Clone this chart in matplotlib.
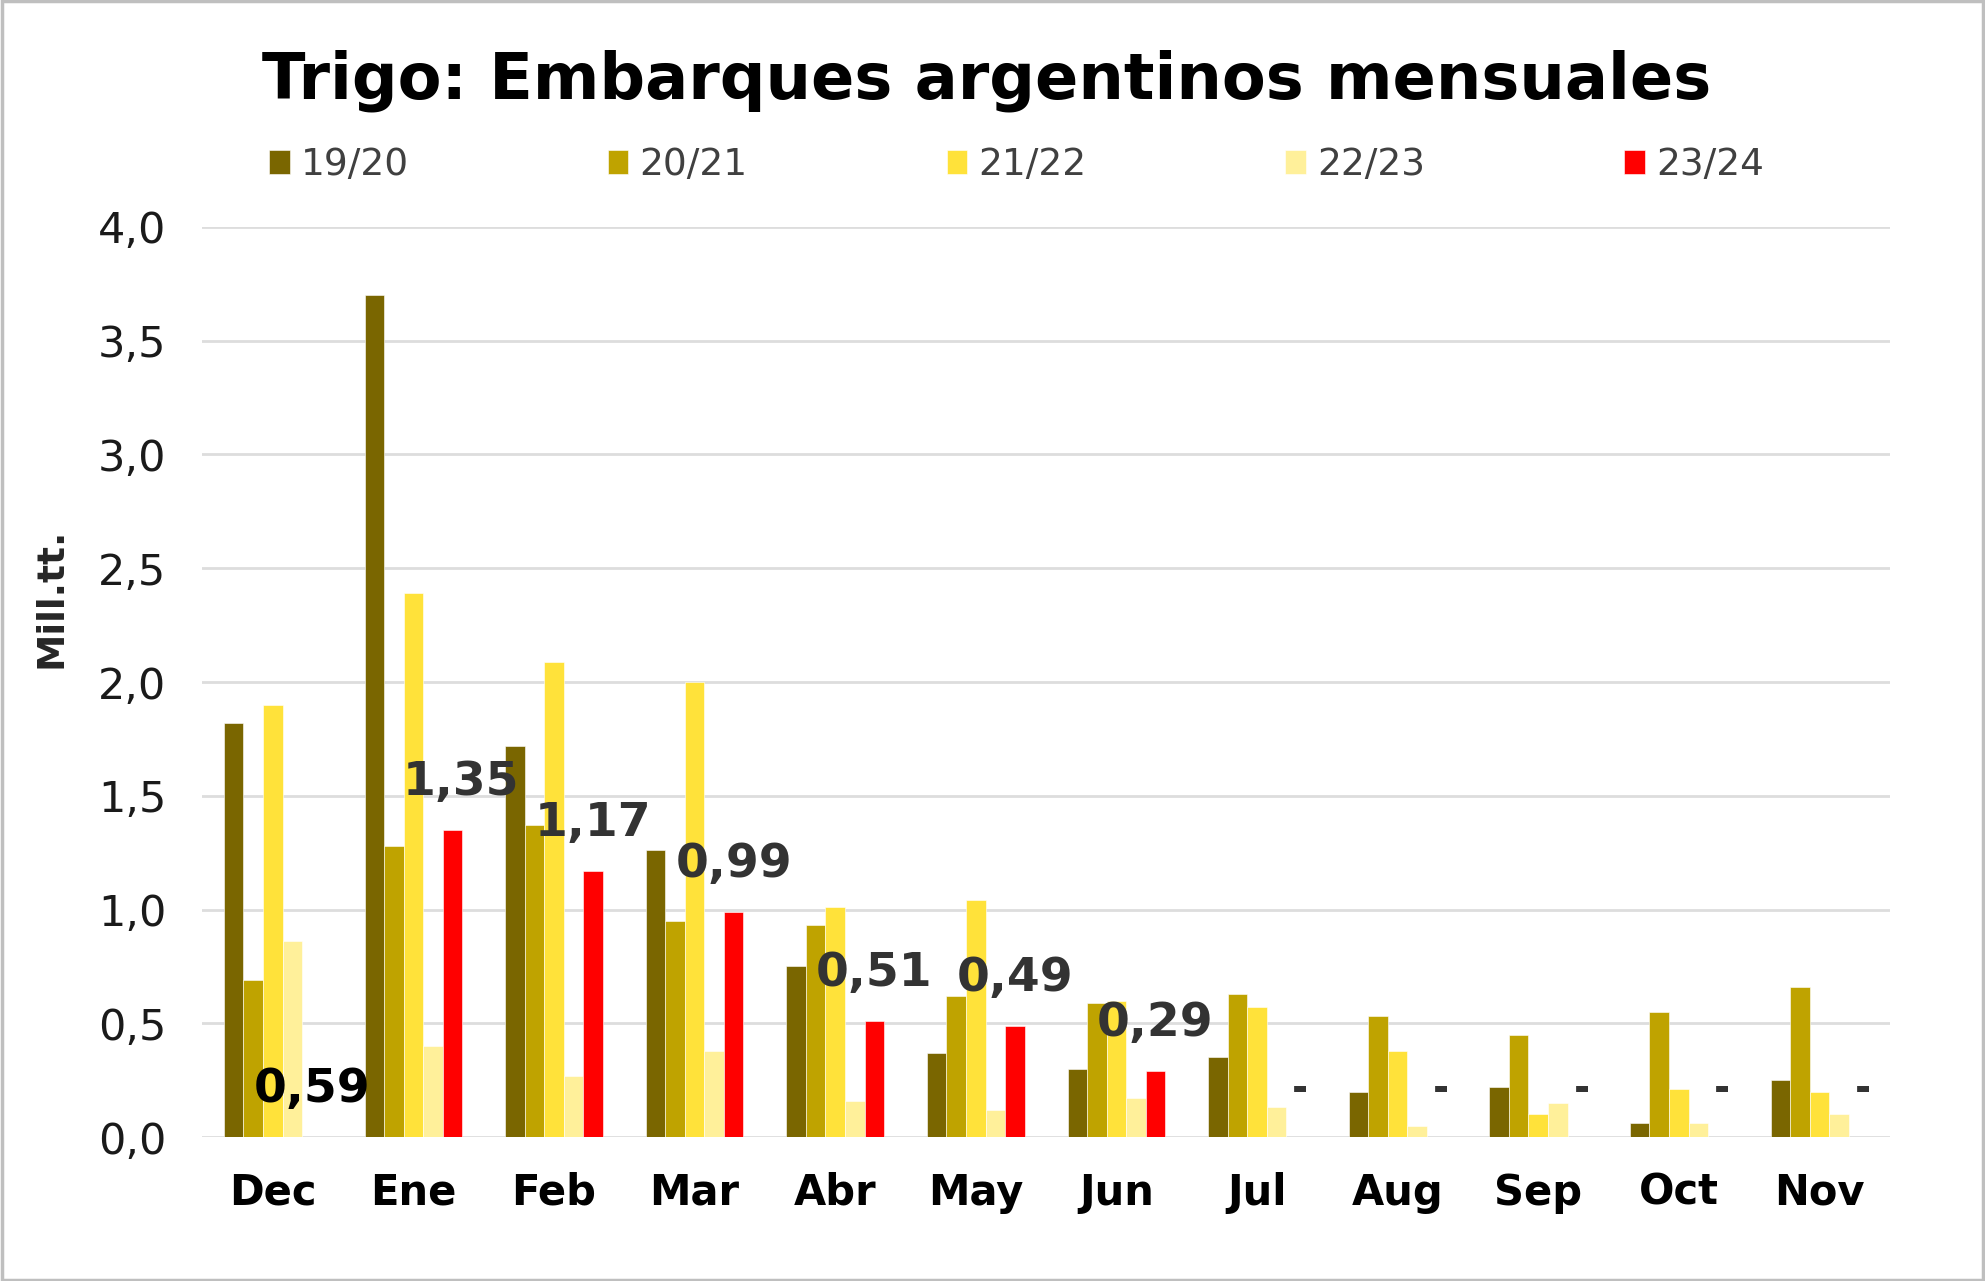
import numpy as np
import matplotlib
matplotlib.use("Agg")
import matplotlib.pyplot as plt
from matplotlib.patches import Rectangle

months = ["Dec", "Ene", "Feb", "Mar", "Abr", "May", "Jun", "Jul", "Aug", "Sep", "Oct", "Nov"]
seasons = ["19/20", "20/21", "21/22", "22/23", "23/24"]

s1920 = [1.82, 3.70, 1.72, 1.26, 0.75, 0.37, 0.30, 0.35, 0.20, 0.22, 0.06, 0.25]
s2021 = [0.69, 1.28, 1.37, 0.95, 0.93, 0.62, 0.59, 0.63, 0.53, 0.45, 0.55, 0.66]
s2122 = [1.90, 2.39, 2.09, 2.00, 1.01, 1.04, 0.60, 0.57, 0.38, 0.10, 0.21, 0.20]
s2223 = [0.86, 0.40, 0.27, 0.38, 0.16, 0.12, 0.17, 0.13, 0.05, 0.15, 0.06, 0.10]
s2324 = [0.0, 1.35, 1.17, 0.99, 0.51, 0.49, 0.29, 0, 0, 0, 0, 0]
labels_2324 = ["0,59", "1,35", "1,17", "0,99", "0,51", "0,49", "0,29", "-", "-", "-", "-", "-"]

colors = ["#7A6600", "#BFA300", "#FFE23A", "#FFF09A", "#FF0000"]
series = [s1920, s2021, s2122, s2223, s2324]

fig = plt.figure(figsize=(19.85, 12.81), dpi=100)
ax = fig.add_axes([0.102, 0.1124, 0.850, 0.7104])

x = np.arange(len(months))
w = 0.139
bars = []
for i, (vals, c) in enumerate(zip(series, colors)):
    b = ax.bar(x + (i - 2) * w, vals, w, color=c, edgecolor="white", linewidth=0.4,
               label=seasons[i], zorder=3)
    bars.append(b)

# etiquetas 23/24
for xi, v, lab in zip(x, s2324, labels_2324):
    col = "black" if xi == 0 else "#333333"
    dx = 6 if xi == 1 else (3 if lab == "-" else 0)
    ax.annotate(lab, (xi + 2 * w, v), xytext=(dx, 34), textcoords="offset points",
                ha="center", va="center", fontsize=34 if lab != "-" else 28,
                fontweight="bold", color=col, zorder=5)

ax.set_xlim(-0.5, 11.5)
ax.set_ylim(0, 4.0)
ax.set_yticks(np.arange(0, 4.01, 0.5))
ax.set_yticklabels([f"{t:.1f}".replace(".", ",") for t in np.arange(0, 4.01, 0.5)],
                   fontsize=31, color="#1a1a1a")
ax.set_xticks(x)
ax.set_xticklabels(months, fontsize=30, fontweight="bold")
ax.tick_params(axis="both", length=0)
ax.tick_params(axis="x", pad=25)
ax.tick_params(axis="y", pad=26)
ax.grid(axis="y", color="#DDDDDD", linewidth=2.0, zorder=0)
for s in ax.spines.values():
    s.set_visible(False)

ax.set_ylabel("Mill.tt.", fontsize=27, fontweight="bold", color="#262626")
ax.yaxis.set_label_coords(-0.079, 0.592)

fig.text(0.497, 0.937, "Trigo: Embarques argentinos mensuales", ha="center", va="center",
         fontsize=46, fontweight="bold")

leg = fig.legend(handles=bars, labels=seasons, loc="center", bbox_to_anchor=(0.512, 0.871),
                 ncol=5, frameon=False, fontsize=27, handlelength=0.55, handleheight=0.6,
                 handletextpad=0.3, columnspacing=5.3)
for t in leg.get_texts():
    t.set_color("#404040")

fig.patches.append(Rectangle((0.001, 0.001), 0.998, 0.998, transform=fig.transFigure,
                             fill=False, edgecolor="#BFBFBF", linewidth=2.5))

fig.savefig("out.png", dpi=100)
